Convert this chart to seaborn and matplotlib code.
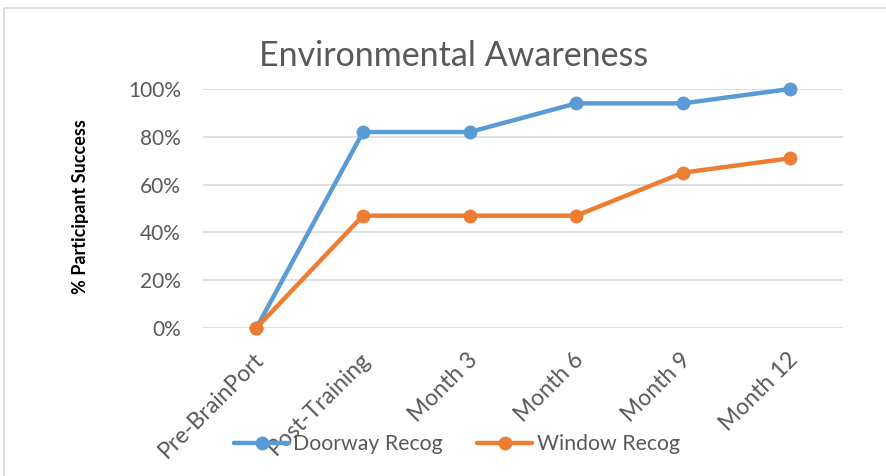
import matplotlib
matplotlib.use('Agg')

import pandas as pd
import matplotlib.pyplot as plt
import matplotlib.ticker as mticker
from matplotlib.patches import Rectangle
from matplotlib.transforms import ScaledTranslation
import seaborn as sns

# --- 資料 ---
stages = ['Pre-BrainPort', 'Post-Training', 'Month 3', 'Month 6', 'Month 9', 'Month 12']
doorway_recog = [0.00, 0.82, 0.82, 0.94, 0.94, 1.00]
window_recog = [0.00, 0.47, 0.47, 0.47, 0.65, 0.71]
series_names = ['Doorway Recog', 'Window Recog']
colors = ['#5B9BD5', '#ED7D31']

df = pd.DataFrame({
    'stage': stages * 2,
    'value': doorway_recog + window_recog,
    'series': [series_names[0]] * len(stages) + [series_names[1]] * len(stages),
})
df['x'] = list(range(len(stages))) * 2

sns.set_theme(style='white')
plt.rcParams['font.family'] = ['Lato', 'DejaVu Sans']
text_color = '#595959'

fig = plt.figure(figsize=(8.87, 4.76), dpi=100)
ax = fig.add_axes([0.2289, 0.3109, 0.7215, 0.5021])

sns.lineplot(data=df, x='x', y='value', hue='series', palette=colors,
             marker='o', markersize=10, markeredgewidth=0, linewidth=3.2,
             ax=ax, legend=False)

ax.set_xlim(-0.5, len(stages) - 0.5)
ax.set_ylim(0, 1.0)
ax.yaxis.set_major_locator(mticker.MultipleLocator(0.2))
ax.yaxis.set_major_formatter(mticker.PercentFormatter(1.0, decimals=0))
ax.grid(axis='y', color='#D9D9D9', linewidth=1.2)
ax.set_axisbelow(True)
for s in ax.spines.values():
    s.set_visible(False)
for line in ax.lines:
    line.set_clip_on(False)

ax.set_xticks(range(len(stages)))
ax.set_xticklabels(stages, rotation=45, ha='right', rotation_mode='anchor',
                   fontsize=16.5, color=text_color)
ax.tick_params(axis='x', length=0, pad=15)
offset = ScaledTranslation(-3 / 100, 0, fig.dpi_scale_trans)
for lbl in ax.get_xticklabels():
    lbl.set_transform(lbl.get_transform() + offset)
ax.tick_params(axis='y', length=0, pad=16, labelsize=15, labelcolor=text_color)
ax.set_xlabel('')
ax.set_ylabel('% Participant Success', fontsize=13, fontweight='bold', color='black')
ax.yaxis.set_label_coords(-0.178, 0.51)

fig.text(0.511, 0.882, 'Environmental Awareness', ha='center', va='center',
         fontsize=24.5, color=text_color)

# 圖例
handles = [plt.Line2D([], [], color=c, marker='o', markersize=10, linewidth=3.2,
                      markeredgewidth=0) for c in colors]
fig.legend(handles, series_names, loc='center', bbox_to_anchor=(0.515, 0.067),
           ncol=2, frameon=False, fontsize=15.3, labelcolor=text_color,
           handlelength=2.6, handletextpad=0.2, columnspacing=1.6,
           borderpad=0, borderaxespad=0)

fig.patches.append(Rectangle((4 / 887, -0.05), 1.0, 1.05 - 8 / 476,
                             transform=fig.transFigure, fill=False,
                             edgecolor='#D9D9D9', linewidth=1.2))

fig.savefig('out.png', dpi=100)
